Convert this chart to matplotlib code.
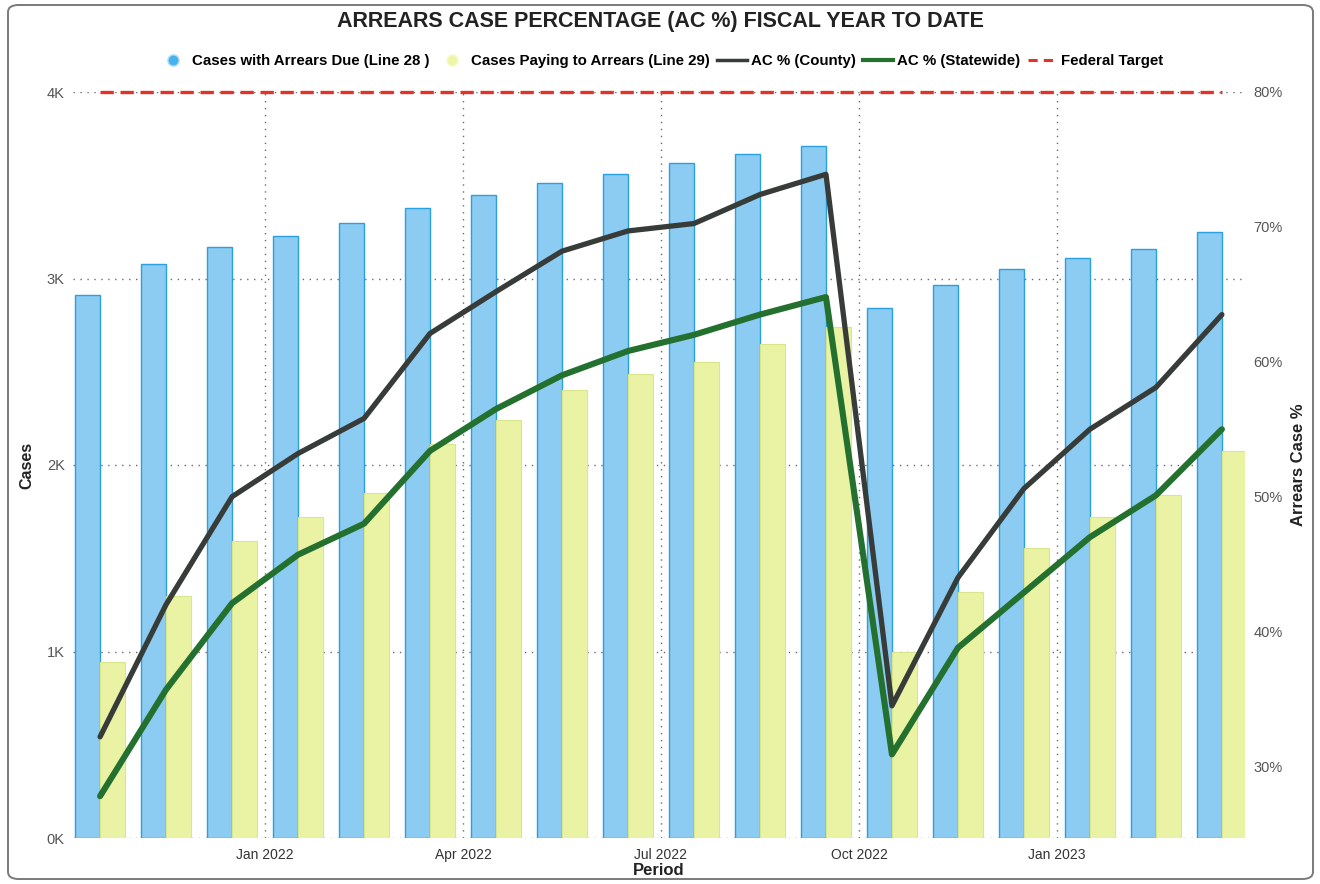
import matplotlib
matplotlib.use("Agg")
import matplotlib.pyplot as plt
from matplotlib.lines import Line2D
from matplotlib.patches import FancyBboxPatch
from matplotlib.ticker import FuncFormatter, MultipleLocator
import numpy as np

# ---- data -------------------------------------------------------------
months = ["2021-10", "2021-11", "2021-12", "2022-01", "2022-02", "2022-03",
          "2022-04", "2022-05", "2022-06", "2022-07", "2022-08", "2022-09",
          "2022-10", "2022-11", "2022-12", "2023-01", "2023-02", "2023-03"]
arrears_due = [2910, 3080, 3170, 3230, 3300, 3380, 3450, 3510, 3560,
               3620, 3670, 3710, 2840, 2965, 3050, 3110, 3160, 3250]
paying_arrears = [945, 1300, 1590, 1720, 1850, 2110, 2240, 2400, 2490,
                  2550, 2650, 2740, 995, 1320, 1555, 1720, 1840, 2075]
ac_county = [32.2, 42.0, 50.0, 53.2, 55.8, 62.1, 65.2, 68.2, 69.7,
             70.25, 72.4, 73.9, 34.5, 44.0, 50.6, 55.0, 58.1, 63.5]
ac_statewide = [27.8, 35.7, 42.1, 45.7, 48.0, 53.4, 56.5, 59.0, 60.8,
                62.0, 63.5, 64.8, 30.9, 38.8, 42.9, 47.0, 50.1, 55.0]
federal_target = [80] * len(months)
month_names = {"01": "Jan", "04": "Apr", "07": "Jul", "10": "Oct"}

title = "ARREARS CASE PERCENTAGE (AC %) FISCAL YEAR TO DATE"
series_labels = ["Cases with Arrears Due (Line 28 )",
                 "Cases Paying to Arrears (Line 29)",
                 "AC % (County)", "AC % (Statewide)", "Federal Target"]

# ---- style ------------------------------------------------------------
BLUE, BLUE_EDGE = "#8ccbf2", "#2aa0e0"
YELLOW, YELLOW_EDGE = "#e9f3a3", "#d8e68e"
COUNTY, STATE, TARGET = "#373c39", "#24702f", "#e53128"
REGULAR = ["Liberation Sans", "DejaVu Sans"]
GRAY = "#555555"

W, H = 1320, 884
fig = plt.figure(figsize=(W / 100, H / 100), dpi=100)
fig.patch.set_facecolor("white")

# rounded card border
fig.patches.append(FancyBboxPatch((8 / W, 5 / H), 1305 / W, 874 / H,
                                  boxstyle="round,pad=0,rounding_size=0.008",
                                  transform=fig.transFigure, fill=False,
                                  edgecolor="#7a7a7a", linewidth=1.4))

left, right, top, bottom = 73, 1245, 92, 838
ax = fig.add_axes([left / W, 1 - bottom / H, (right - left) / W, (bottom - top) / H])
ax2 = ax.twinx()

x = np.arange(len(months))
bw = 0.37
ax.bar(x - 0.19, arrears_due, width=bw, color=BLUE, edgecolor=BLUE_EDGE,
       linewidth=1.0, zorder=2)
ax.bar(x + 0.19, paying_arrears, width=bw, color=YELLOW, edgecolor=YELLOW_EDGE,
       linewidth=0.8, zorder=2)

# quarter ticks sit at the start of Jan / Apr / Jul / Oct (first month skipped)
tick_pos, tick_lab = [], []
for i, m in enumerate(months):
    yr, mo = m.split("-")
    if i > 0 and mo in month_names:
        tick_pos.append(i - 0.5)
        tick_lab.append(f"{month_names[mo]} {yr}")
ax.set_xticks(tick_pos)
ax.set_xticklabels(tick_lab, fontfamily=REGULAR, fontsize=10, color="#333333")
ax.set_xlim(-0.41, 17.35)
ax.set_ylim(0, 4000)
ax.yaxis.set_major_locator(MultipleLocator(1000))
ax.yaxis.set_major_formatter(FuncFormatter(lambda v, p: f"{v / 1000:.0f}K"))

ax.grid(True, axis="both", linestyle=(0, (1, 4)), color="#6a6a6a", linewidth=1.0)
ax.set_axisbelow(True)
ax.tick_params(axis="both", length=0)
ax.tick_params(axis="x", pad=7)
ax.tick_params(axis="y", pad=6, labelsize=10.5, labelcolor=GRAY)
for lab in ax.get_yticklabels():
    lab.set_fontfamily(REGULAR)

# percentage lines on the secondary axis
ax2.plot(x, federal_target, color=TARGET, linewidth=2.4, dashes=(4, 2),
         clip_on=False, zorder=3)
ax2.plot(x, ac_county, color=COUNTY, linewidth=3.8, solid_joinstyle="round",
         solid_capstyle="round", zorder=4)
ax2.plot(x, ac_statewide, color=STATE, linewidth=4.4, solid_joinstyle="round",
         solid_capstyle="round", zorder=5)
ax2.set_ylim(24.7, 80)
ax2.set_yticks([30, 40, 50, 60, 70, 80])
ax2.yaxis.set_major_formatter(FuncFormatter(lambda v, p: f"{v:.0f}%"))
ax2.tick_params(axis="y", length=0, pad=6, labelsize=10.5, labelcolor=GRAY)
for lab in ax2.get_yticklabels():
    lab.set_fontfamily(REGULAR)

for a in (ax, ax2):
    for s in a.spines.values():
        s.set_visible(False)

ax.set_ylabel("Cases", fontfamily=REGULAR, fontweight="bold", fontsize=11.5,
              color="#222222", labelpad=9)
ax.set_xlabel("Period", fontfamily=REGULAR, fontweight="bold", fontsize=12,
              color="#222222", labelpad=1)
ax2.set_ylabel("Arrears Case %", fontfamily=REGULAR, fontweight="bold",
               fontsize=12, color="#222222", labelpad=6)

fig.text(0.5, 1 - 22 / H, title, ha="center", va="center",
         fontfamily=REGULAR, fontweight="bold", fontsize=15.5, color="#222222")

handles = [
    Line2D([], [], linestyle="none", marker="o", markersize=8,
           markerfacecolor="#47b2ee", markeredgecolor="#a8dcf8"),
    Line2D([], [], linestyle="none", marker="o", markersize=8,
           markerfacecolor="#eef5a6", markeredgecolor="#f6fad0"),
    Line2D([], [], color=COUNTY, linewidth=2.5),
    Line2D([], [], color=STATE, linewidth=3),
    Line2D([], [], color=TARGET, linewidth=2.2, dashes=(3, 2)),
]
fig.legend(handles, series_labels, loc="center",
           bbox_to_anchor=(661 / W, 1 - 61 / H), ncol=5, frameon=False,
           handlelength=2.0, handletextpad=0.25, columnspacing=0.5,
           prop={"family": REGULAR, "weight": "bold", "size": 10.8})

fig.savefig("out.png", dpi=100, facecolor="white")
